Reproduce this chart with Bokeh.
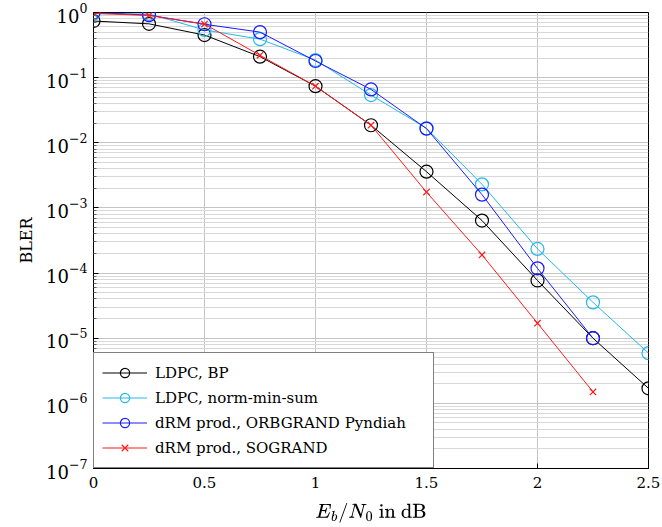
import numpy as np
from bokeh.plotting import figure
from bokeh.models import FixedTicker, Legend, LegendItem, TeX
from bokeh.embed import file_html
from bokeh.resources import INLINE

snr = [0.0, 0.25, 0.5, 0.75, 1.0, 1.25, 1.5, 1.75, 2.0, 2.25, 2.5]

ldpc_bp = [0.74, 0.67, 0.45, 0.21, 0.074, 0.0186, 0.0036, 6.4e-4, 7.7e-5, 1.0e-5, 1.7e-6]
ldpc_nms = [0.96, 0.95, 0.54, 0.39, 0.186, 0.054, 0.0167, 0.0023, 2.35e-4, 3.55e-5, 5.9e-6]
orbgrand_snr = [0.0, 0.25, 0.5, 0.75, 1.0, 1.25, 1.5, 1.75, 2.0, 2.25]
orbgrand = [1.0, 0.91, 0.66, 0.50, 0.18, 0.066, 0.0165, 0.0016, 1.18e-4, 1.0e-5]
sogrand_snr = [0.0, 0.25, 0.5, 0.75, 1.0, 1.25, 1.5, 1.75, 2.0, 2.25]
sogrand = [0.97, 0.90, 0.665, 0.22, 0.074, 0.0186, 1.75e-3, 1.9e-4, 1.7e-5, 1.5e-6]

x_ticks = [0.0, 0.5, 1.0, 1.5, 2.0, 2.5]
x_tick_labels = ["0", "0.5", "1", "1.5", "2", "2.5"]
y_exponents = [-7, -6, -5, -4, -3, -2, -1, 0]

labels = ["LDPC, BP", "LDPC, norm-min-sum", "dRM prod., ORBGRAND Pyndiah", "dRM prod., SOGRAND"]
colors = ["black", "#22b8ec", "#1a1aff", "#ff1a1a"]

FONT = "DejaVu Serif"

p = figure(width=662, height=527, y_axis_type="log",
           x_range=(0, 2.5), y_range=(1e-7, 1.0),
           output_backend="svg", toolbar_location=None,
           min_border_left=93, min_border_right=14, min_border_top=12, min_border_bottom=59)

p.outline_line_color = "black"
p.outline_line_width = 1
p.background_fill_color = "white"

# axes
p.xaxis.ticker = FixedTicker(ticks=x_ticks)
p.xaxis.major_label_overrides = {t: l for t, l in zip(x_ticks, x_tick_labels)}
major_y = [10.0 ** e for e in y_exponents]
minor_y = [k * 10.0 ** e for e in y_exponents[:-1] for k in range(2, 10)]
p.yaxis.ticker = FixedTicker(ticks=major_y, minor_ticks=minor_y)

for ax in (p.xaxis, p.yaxis):
    ax.major_tick_in = 5
    ax.major_tick_out = 0
    ax.minor_tick_in = 3
    ax.minor_tick_out = 0
    ax.major_tick_line_color = "black"
    ax.minor_tick_line_color = "#666666"
    ax.axis_line_color = "black"
    ax.major_label_text_font = FONT
    ax.major_label_text_color = "black"
    ax.axis_label_text_font = FONT
    ax.axis_label_text_font_size = "16px"
    ax.axis_label_text_font_style = "normal"
    ax.axis_label_text_color = "black"
p.xaxis.major_label_text_font_size = "15px"
p.yaxis.major_label_text_font_size = "18px"
p.xaxis.minor_tick_line_color = None
p.xaxis.major_label_standoff = 8
p.yaxis.major_label_standoff = 6

p.xaxis.axis_label = TeX(r"E_b/N_0 \text{ in dB}")
p.yaxis.axis_label = "BLER"
p.xaxis.axis_label_standoff = 12
p.yaxis.axis_label_standoff = 7

# grid
p.xgrid.grid_line_color = "#c4c4c4"
p.ygrid.grid_line_color = "#c4c4c4"
p.ygrid.minor_grid_line_color = "#d8d8d8"

series = [(snr, ldpc_bp), (snr, ldpc_nms), (orbgrand_snr, orbgrand), (sogrand_snr, sogrand)]
items = []
for i, ((xs, ys), lab, col) in enumerate(zip(series, labels, colors)):
    ln = p.line(xs, ys, line_color=col, line_width=1)
    if i == 3:
        mk = p.scatter(xs, ys, marker="x", size=9, line_color=col, line_width=1.2)
    else:
        mk = p.scatter(xs, ys, marker="circle", size=13, line_color=col, line_width=1.2,
                       fill_color=None)
    items.append(LegendItem(label=lab, renderers=[ln, mk]))

legend = Legend(items=items, location="bottom_left")
legend.margin = 0
legend.padding = 8
legend.spacing = 2
legend.border_line_color = "black"
legend.border_line_width = 1
legend.background_fill_color = "white"
legend.background_fill_alpha = 1.0
legend.label_text_font = FONT
legend.label_text_font_size = "15px"
legend.label_text_color = "black"
legend.glyph_width = 45
legend.glyph_height = 23
legend.label_height = 23
legend.label_standoff = 8
legend.label_width = 270
p.add_layout(legend)

open("out.html", "w").write(file_html(p, INLINE))
